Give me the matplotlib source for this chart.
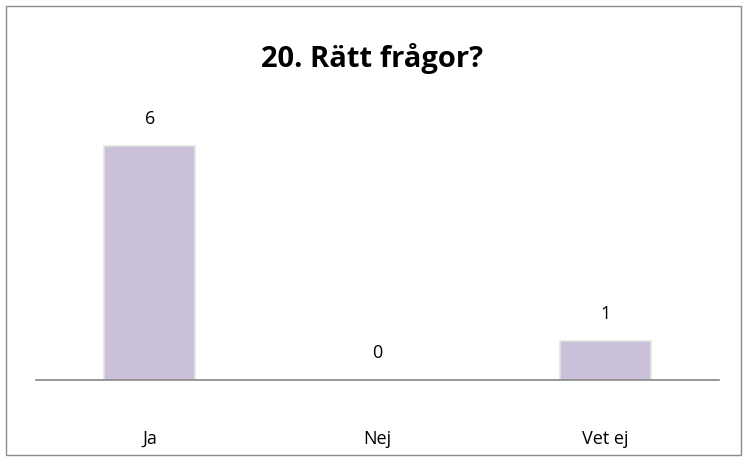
import matplotlib.pyplot as plt
from matplotlib.patches import Rectangle

# data
categories = ["Ja", "Nej", "Vet ej"]
counts = [6, 0, 1]
title = "20. Rätt frågor?"

plt.rcParams['font.family'] = ['Open Sans', 'DejaVu Sans']

W, H = 744, 461
fig = plt.figure(figsize=(W / 100, H / 100), dpi=100)
ax = fig.add_axes([36 / W, 1 - 380 / H, (719 - 36) / W, (380 - 107) / H])

x = range(len(categories))
ax.bar(x, counts, width=0.4, color="#cbc0da", edgecolor="#e4e4e4", linewidth=1.2)
for xi, c in zip(x, counts):
    ax.text(xi, c + 0.45, str(c), ha="center", va="bottom", fontsize=13)

ax.set_xlim(-0.5, 2.5)
ax.set_ylim(0, 7)
ax.set_xticks(list(x))
ax.set_xticklabels(categories, fontsize=13)
ax.tick_params(axis="x", length=0, pad=36)
ax.set_yticks([])
for s in ["top", "left", "right"]:
    ax.spines[s].set_visible(False)
ax.spines["bottom"].set_color("#868686")
ax.spines["bottom"].set_linewidth(1.2)

fig.text(0.5, 1 - 58 / H, title, ha="center", va="center",
         fontsize=21, fontweight="bold")

# chart border
fig.patches.append(Rectangle((6 / W, 6 / H), 735 / W, 449 / H, transform=fig.transFigure,
                             fill=False, edgecolor="#8c8c8c", linewidth=1))

fig.savefig("out.png", dpi=100)
